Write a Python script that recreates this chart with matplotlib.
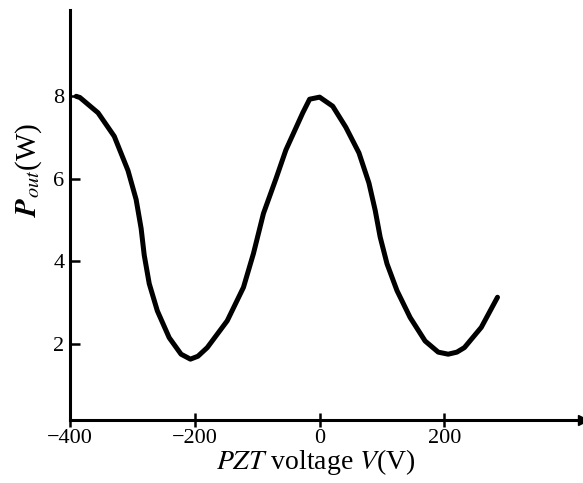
import matplotlib
matplotlib.use('Agg')
import matplotlib.pyplot as plt

# PZT voltage (V) and output power (W)
voltage = [-390, -384, -355, -329, -307, -294, -286, -281, -273, -260,
           -241, -222, -207, -195, -180, -148, -122, -106, -90, -70,
           -54, -27, -16, 0, 21, 42, 63, 79, 89, 97,
           108, 124, 145, 169, 190, 206, 220, 232, 259, 285]
power = [8.0, 7.97, 7.60, 7.03, 6.2, 5.5, 4.8, 4.15, 3.46, 2.8,
         2.15, 1.75, 1.63, 1.7, 1.91, 2.56, 3.37, 4.19, 5.16, 6.0,
         6.7, 7.6, 7.93, 7.98, 7.76, 7.25, 6.63, 5.9, 5.24, 4.59,
         3.94, 3.29, 2.64, 2.07, 1.8, 1.75, 1.8, 1.91, 2.40, 3.13]

xticks = [-400, -200, 0, 200]
xticklabels = ['\u2212400', '\u2212200', '0', '200']
yticks = [2, 4, 6, 8]

plt.rcParams['font.family'] = 'Liberation Serif'
plt.rcParams['mathtext.fontset'] = 'stix'

fig = plt.figure(figsize=(5.83, 4.83), dpi=100)
ax = fig.add_axes([0.12, 0.13, 0.88, 0.85])

ax.plot(voltage, power, color='black', linewidth=3.6,
        solid_capstyle='round', solid_joinstyle='round')

ax.set_xlim(-400, 422)
ax.set_ylim(0.15, 10.1)
ax.spines['top'].set_visible(False)
ax.spines['right'].set_visible(False)
ax.spines['left'].set_linewidth(2.2)
ax.spines['bottom'].set_linewidth(2.2)
# arrow head at the right end of the voltage axis
ax.plot(1, 0, '>k', transform=ax.transAxes, clip_on=False, markersize=7)

ax.set_xticks(xticks)
ax.set_xticklabels(xticklabels)
ax.set_yticks(yticks)
ax.tick_params(axis='x', direction='inout', length=10, width=1.8, labelsize=16, pad=1)
ax.tick_params(axis='y', direction='in', length=7, width=1.8, labelsize=16, pad=4)

ax.set_xlabel(r'$PZT$ voltage $V$(V)', fontsize=20)
ax.xaxis.set_label_coords(0.48, -0.065)
ax.set_ylabel(r'$\boldsymbol{P}_{out}$(W)', fontsize=21)
ax.yaxis.set_label_coords(-0.05, 0.61)

fig.savefig('out.png', dpi=100)
